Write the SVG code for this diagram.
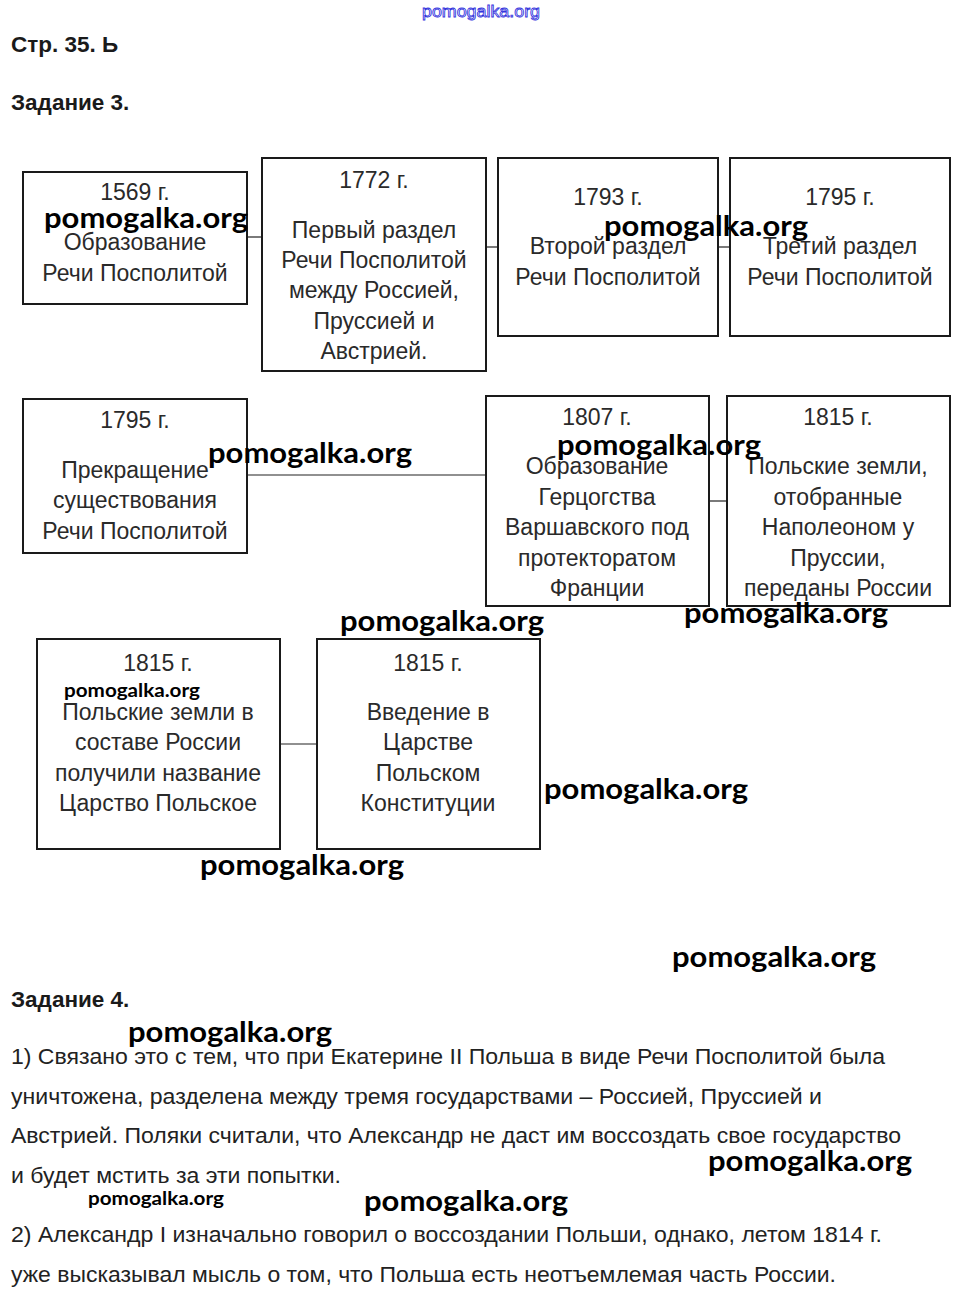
<svg xmlns="http://www.w3.org/2000/svg" width="959" height="1299" viewBox="0 0 959 1299">
<style>
.box{fill:#fff;stroke:#1a1a1a;stroke-width:2}
.t{font-family:"Liberation Sans",Arial,sans-serif;font-size:23px;fill:#2a2a2a;text-anchor:middle}
.h{font-family:"Liberation Sans",Arial,sans-serif;font-size:22.5px;font-weight:bold;fill:#1a1a1a}
.p{font-family:"Liberation Sans",Arial,sans-serif;font-size:22px;fill:#222}
.w{font-family:Lato,"Open Sans",sans-serif;font-size:28px;font-weight:bold;fill:#000}
.ws{font-family:Lato,"Open Sans",sans-serif;font-size:19px;font-weight:bold;fill:#000}
.c{stroke:#222;stroke-width:1.2;fill:none}
</style>
<rect width="959" height="1299" fill="#fff"/>
<text x="422" y="17" font-family="'Liberation Sans',Arial,sans-serif" font-size="16" fill="#fff" stroke="#3333dd" stroke-width="0.8" textLength="118" lengthAdjust="spacingAndGlyphs">pomogalka.org</text>
<text class="h" x="11" y="52">Стр. 35. Ь</text>
<text class="h" x="11" y="110">Задание 3.</text>

<g id="connectors">
<line class="c" x1="247" y1="237" x2="262" y2="237"/>
<line class="c" x1="486" y1="247" x2="498" y2="247"/>
<line class="c" x1="718" y1="247" x2="730" y2="247"/>
<line class="c" x1="247" y1="475" x2="486" y2="475"/>
<line class="c" x1="709" y1="501" x2="727" y2="501"/>
<line class="c" x1="280" y1="744" x2="317" y2="744"/>
</g>

<g id="n1569"><rect class="box" x="23" y="172" width="224" height="132"/>
<text class="t" x="135" y="200">1569 г.</text><text class="t" x="135" y="250">Образование</text><text class="t" x="135" y="281">Речи Посполитой</text></g>
<g id="n1772"><rect class="box" x="262" y="158" width="224" height="213"/>
<text class="t" x="374" y="188">1772 г.</text><text class="t" x="374" y="238">Первый раздел</text><text class="t" x="374" y="268">Речи Посполитой</text><text class="t" x="374" y="298">между Россией,</text><text class="t" x="374" y="329">Пруссией и</text><text class="t" x="374" y="359">Австрией.</text></g>
<g id="n1793"><rect class="box" x="498" y="158" width="220" height="178"/>
<text class="t" x="608" y="205">1793 г.</text><text class="t" x="608" y="254">Второй раздел</text><text class="t" x="608" y="285">Речи Посполитой</text></g>
<g id="n1795a"><rect class="box" x="730" y="158" width="220" height="178"/>
<text class="t" x="840" y="205">1795 г.</text><text class="t" x="840" y="254">Третий раздел</text><text class="t" x="840" y="285">Речи Посполитой</text></g>

<g id="n1795b"><rect class="box" x="23" y="399" width="224" height="154"/>
<text class="t" x="135" y="428">1795 г.</text><text class="t" x="135" y="478">Прекращение</text><text class="t" x="135" y="508">существования</text><text class="t" x="135" y="539">Речи Посполитой</text></g>
<g id="n1807"><rect class="box" x="486" y="396" width="223" height="210"/>
<text class="t" x="597" y="425">1807 г.</text><text class="t" x="597" y="474">Образование</text><text class="t" x="597" y="505">Герцогства</text><text class="t" x="597" y="535">Варшавского под</text><text class="t" x="597" y="566">протекторатом</text><text class="t" x="597" y="596">Франции</text></g>
<g id="n1815a"><rect class="box" x="727" y="396" width="223" height="210"/>
<text class="t" x="838" y="425">1815 г.</text><text class="t" x="838" y="474">Польские земли,</text><text class="t" x="838" y="505">отобранные</text><text class="t" x="838" y="535">Наполеоном у</text><text class="t" x="838" y="566">Пруссии,</text><text class="t" x="838" y="596">переданы России</text></g>

<g id="n1815b"><rect class="box" x="37" y="639" width="243" height="210"/>
<text class="t" x="158" y="671">1815 г.</text><text class="t" x="158" y="720">Польские земли в</text><text class="t" x="158" y="750">составе России</text><text class="t" x="158" y="781">получили название</text><text class="t" x="158" y="811">Царство Польское</text></g>
<g id="n1815c"><rect class="box" x="317" y="639" width="223" height="210"/>
<text class="t" x="428" y="671">1815 г.</text><text class="t" x="428" y="720">Введение в</text><text class="t" x="428" y="750">Царстве</text><text class="t" x="428" y="781">Польском</text><text class="t" x="428" y="811">Конституции</text></g>

<text class="h" x="11" y="1007">Задание 4.</text>
<text class="p" x="11" y="1064" textLength="874" lengthAdjust="spacingAndGlyphs">1) Связано это с тем, что при Екатерине II Польша в виде Речи Посполитой была</text>
<text class="p" x="11" y="1104" textLength="811" lengthAdjust="spacingAndGlyphs">уничтожена, разделена между тремя государствами – Россией, Пруссией и</text>
<text class="p" x="11" y="1143" textLength="890" lengthAdjust="spacingAndGlyphs">Австрией. Поляки считали, что Александр не даст им воссоздать свое государство</text>
<text class="p" x="11" y="1183" textLength="330" lengthAdjust="spacingAndGlyphs">и будет мстить за эти попытки.</text>
<text class="p" x="11" y="1242" textLength="871" lengthAdjust="spacingAndGlyphs">2) Александр I изначально говорил о воссоздании Польши, однако, летом 1814 г.</text>
<text class="p" x="11" y="1282" textLength="825" lengthAdjust="spacingAndGlyphs">уже высказывал мысль о том, что Польша есть неотъемлемая часть России.</text>

<g id="watermarks">
<text class="w" x="44" y="228" textLength="204" lengthAdjust="spacingAndGlyphs">pomogalka.org</text>
<text class="w" x="604" y="236" textLength="204" lengthAdjust="spacingAndGlyphs">pomogalka.org</text>
<text class="w" x="208" y="463" textLength="204" lengthAdjust="spacingAndGlyphs">pomogalka.org</text>
<text class="w" x="557" y="455" textLength="204" lengthAdjust="spacingAndGlyphs">pomogalka.org</text>
<text class="w" x="340" y="631" textLength="204" lengthAdjust="spacingAndGlyphs">pomogalka.org</text>
<text class="w" x="684" y="623" textLength="204" lengthAdjust="spacingAndGlyphs">pomogalka.org</text>
<text class="ws" x="64" y="697" textLength="136" lengthAdjust="spacingAndGlyphs">pomogalka.org</text>
<text class="w" x="544" y="799" textLength="204" lengthAdjust="spacingAndGlyphs">pomogalka.org</text>
<text class="w" x="200" y="875" textLength="204" lengthAdjust="spacingAndGlyphs">pomogalka.org</text>
<text class="w" x="672" y="967" textLength="204" lengthAdjust="spacingAndGlyphs">pomogalka.org</text>
<text class="w" x="128" y="1042" textLength="204" lengthAdjust="spacingAndGlyphs">pomogalka.org</text>
<text class="w" x="708" y="1171" textLength="204" lengthAdjust="spacingAndGlyphs">pomogalka.org</text>
<text class="ws" x="88" y="1205" textLength="136" lengthAdjust="spacingAndGlyphs">pomogalka.org</text>
<text class="w" x="364" y="1211" textLength="204" lengthAdjust="spacingAndGlyphs">pomogalka.org</text>
</g>
</svg>
